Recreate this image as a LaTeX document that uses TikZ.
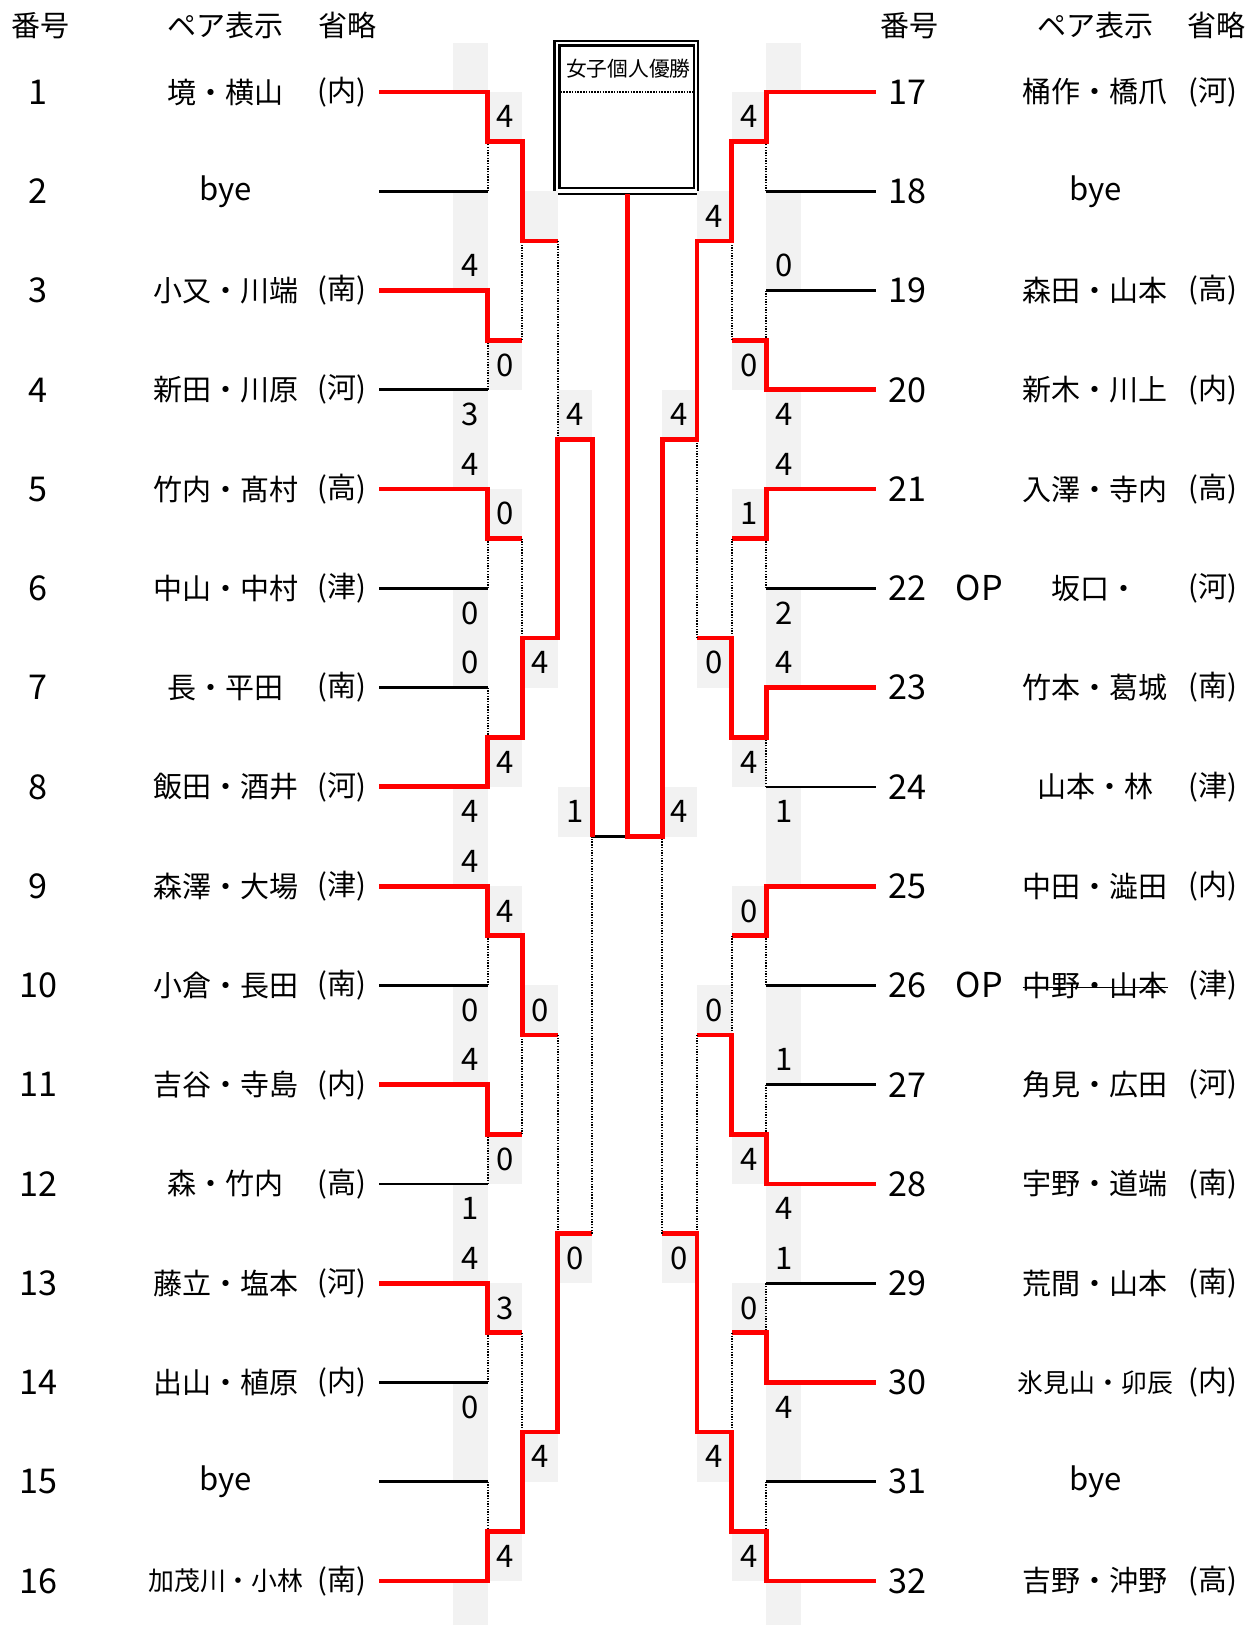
\documentclass[tikz,border=0pt]{standalone}
\usepackage{fontspec}
\setmainfont{Noto Sans CJK JP}
\definecolor{gr}{HTML}{F2F2F2}
\newcommand\bkwin[6]{%
  \draw[dl] (#2,#5) -- (#2,#6);
  \draw[rl] (#1,#4) -- (#2,#4) -- (#2,#6) -- (#3,#6);}
\begin{document}
\begin{tikzpicture}[x=1pt,y=-1pt,
  rl/.style={draw=red, line width=4.6pt, line join=miter, line cap=butt},
  bl/.style={draw=black, line width=2.6pt},
  dl/.style={draw=black, line width=2pt, dash pattern=on 1.3pt off 1.3pt},
  sc/.style={font=\fontsize{30}{30}\selectfont, inner sep=0pt},
  num/.style={font=\fontsize{33}{33}\selectfont, inner sep=0pt},
  nm/.style={font=\fontsize{28}{28}\selectfont, inner sep=0pt},
  hd/.style={font=\fontsize{28}{28}\selectfont, inner sep=0pt},
  bx/.style={draw, line width=2.5pt, inner sep=0pt, outer sep=0pt}]
\useasboundingbox (0,0) rectangle (1214,1568);
% headers
\foreach \x/\t [count=\c] in {39/番号,218/ペア表示,335/省略,878/番号,1057/ペア表示,1174/省略}
  \node[hd] (hd\c) at (\x,25) {\t};
% champion box
\node[bx, minimum width=138.3pt, minimum height=147.4pt] (champ) at (604.45,113.4) {};
\node[bx, minimum width=129.7pt, minimum height=137.7pt] (champin) at (604.75,112.55) {};
\node[font=\fontsize{20}{20}\selectfont, inner sep=0pt] (title) at (606.4,65.9) {女子個人優勝};
\draw[line width=2.2pt, dash pattern=on 1.5pt off 1.2pt] (541,88.8) -- (668.6,88.8);
\begin{scope}[y=-47.89pt, yshift=-88.8pt]
% gray background cells
\foreach \a/\b in {-0.98/0, 2/4, 6/8, 10/12, 14/16, 18/20, 22/24, 26/28, 30/30.9} {
  \fill[gr] (437,\a) rectangle (470.5,\b);
  \fill[gr] (739.5,\a) rectangle (773,\b);}
\foreach \a in {0,5,8,13,16,21,24,29} {
  \fill[gr] (470.5,\a) rectangle (504,{\a+1});
  \fill[gr] (706,\a) rectangle (739.5,{\a+1});}
\foreach \a in {2,11,18,27} {
  \fill[gr] (504,\a) rectangle (538,{\a+1});
  \fill[gr] (672.5,\a) rectangle (706,{\a+1});}
\foreach \a in {6,14,23} {
  \fill[gr] (538,\a) rectangle (571.5,{\a+1});
  \fill[gr] (639,\a) rectangle (672.5,{\a+1});}
% scores
\foreach \k/\t [count=\c] in {3.5/4, 6.5/3, 7.5/4, 10.5/0, 11.5/0, 14.5/4, 15.5/4, 18.5/0, 19.5/4, 22.5/1, 23.5/4, 26.5/0}
  \node[sc] (sa\c) at (453.75,\k) {\t};
\foreach \k/\t [count=\c] in {0.5/4, 5.5/0, 8.5/0, 13.5/4, 16.5/4, 21.5/0, 24.5/3, 29.5/4}
  \node[sc] (sb\c) at (487.25,\k) {\t};
\foreach \k/\t [count=\c] in {11.5/4, 18.5/0, 27.5/4}
  \node[sc] (sc\c) at (521,\k) {\t};
\foreach \k/\t [count=\c] in {6.5/4, 14.5/1, 23.5/0}
  \node[sc] (sd\c) at (554.75,\k) {\t};
\foreach \k/\t [count=\c] in {3.5/0, 6.5/4, 7.5/4, 10.5/2, 11.5/4, 14.5/1, 19.5/1, 22.5/4, 23.5/1, 26.5/4}
  \node[sc] (ra\c) at (756.25,\k) {\t};
\foreach \k/\t [count=\c] in {0.5/4, 5.5/0, 8.5/1, 13.5/4, 16.5/0, 21.5/4, 24.5/0, 29.5/4}
  \node[sc] (rb\c) at (722.75,\k) {\t};
\foreach \k/\t [count=\c] in {2.5/4, 11.5/0, 18.5/0, 27.5/4}
  \node[sc] (rc\c) at (689.25,\k) {\t};
\foreach \k/\t [count=\c] in {6.5/4, 14.5/4, 23.5/0}
  \node[sc] (rd\c) at (655.75,\k) {\t};
% losers' entry lines
\foreach \k in {2,6,10,12,18,22,26,28} \draw[bl] (366,\k) -- (470.5,\k);
\foreach \k in {2,4,10,14,18,20,24,28} \draw[bl] (845,\k) -- (739.5,\k);
% left side matches
\bkwin{366}{470.5}{504}{0}{2}{1}
\bkwin{366}{470.5}{504}{4}{6}{5}
\bkwin{366}{470.5}{504}{8}{10}{9}
\bkwin{366}{470.5}{504}{14}{12}{13}
\bkwin{366}{470.5}{504}{16}{18}{17}
\bkwin{366}{470.5}{504}{20}{22}{21}
\bkwin{366}{470.5}{504}{24}{26}{25}
\bkwin{366}{470.5}{504}{30}{28}{29}
\bkwin{470.5}{504}{538}{1}{5}{3}
\bkwin{470.5}{504}{538}{13}{9}{11}
\bkwin{470.5}{504}{538}{17}{21}{19}
\bkwin{470.5}{504}{538}{29}{25}{27}
\bkwin{504}{538}{571.5}{11}{3}{7}
\bkwin{504}{538}{571.5}{27}{19}{23}
\draw[dl] (571.5,23) -- (571.5,15);
\draw[bl] (571.5,15) -- (605.3,15);
\draw[rl] (538,7) -- (571.5,7) -- (571.5,15);
% right side matches
\bkwin{845}{739.5}{706}{0}{2}{1}
\bkwin{845}{739.5}{706}{6}{4}{5}
\bkwin{845}{739.5}{706}{8}{10}{9}
\bkwin{845}{739.5}{706}{12}{14}{13}
\bkwin{845}{739.5}{706}{16}{18}{17}
\bkwin{845}{739.5}{706}{22}{20}{21}
\bkwin{845}{739.5}{706}{26}{24}{25}
\bkwin{845}{739.5}{706}{30}{28}{29}
\bkwin{739.5}{706}{672.5}{1}{5}{3}
\bkwin{739.5}{706}{672.5}{13}{9}{11}
\bkwin{739.5}{706}{672.5}{21}{17}{19}
\bkwin{739.5}{706}{672.5}{29}{25}{27}
\bkwin{706}{672.5}{639}{3}{11}{7}
\bkwin{706}{672.5}{639}{27}{19}{23}
\draw[dl] (639,23) -- (639,15);
\coordinate (fbot) at (605.3,15);
\draw[rl] (672.5,7) -- (639,7) -- (639,15) -- (fbot) -- (champ.south -| fbot);
% left entries
\foreach \i/\n/\s/\f in {1/境・横山/(内)/28, 2/bye/{}/30, 3/小又・川端/(南)/28, 4/新田・川原/(河)/28,
  5/竹内・髙村/(高)/28, 6/中山・中村/(津)/28, 7/長・平田/(南)/28, 8/飯田・酒井/(河)/28,
  9/森澤・大場/(津)/28, 10/小倉・長田/(南)/28, 11/吉谷・寺島/(内)/28, 12/森・竹内/(高)/28,
  13/藤立・塩本/(河)/28, 14/出山・植原/(内)/28, 15/bye/{}/30, 16/加茂川・小林/(南)/25} {
  \pgfmathsetmacro\k{2*(\i-1)}
  \node[num] (ln\i) at (37,\k) {\i};
  \node[font=\fontsize{\f}{\f}\selectfont, inner sep=0pt] (lp\i) at (218,\k) {\n};
  \node[nm] (ls\i) at (330,\k) {\s};}
% right entries
\foreach \i/\n/\s/\f in {17/桶作・橋爪/(河)/28, 18/bye/{}/30, 19/森田・山本/(高)/28, 20/新木・川上/(内)/28,
  21/入澤・寺内/(高)/28, 22/坂口・/(河)/28, 23/竹本・葛城/(南)/28, 24/山本・林/(津)/28,
  25/中田・澁田/(内)/28, 26/中野・山本/(津)/28, 27/角見・広田/(河)/28, 28/宇野・道端/(南)/28,
  29/荒間・山本/(南)/28, 30/氷見山・卯辰/(内)/25, 31/bye/{}/30, 32/吉野・沖野/(高)/28} {
  \pgfmathsetmacro\k{2*(\i-17)}
  \node[num] (rn\i) at (876,\k) {\i};
  \node[font=\fontsize{\f}{\f}\selectfont, inner sep=0pt] (rp\i) at (1057,\k) {\n};
  \node[nm] (rs\i) at (1170,\k) {\s};}
\node[num] (op22) at (945,10) {OP};
\node[num] (op26) at (945,18) {OP};
\draw[line width=1.4pt] (rp26.west |- 0,18.04) -- (rp26.east |- 0,18.04);
\end{scope}
\end{tikzpicture}
\end{document}
